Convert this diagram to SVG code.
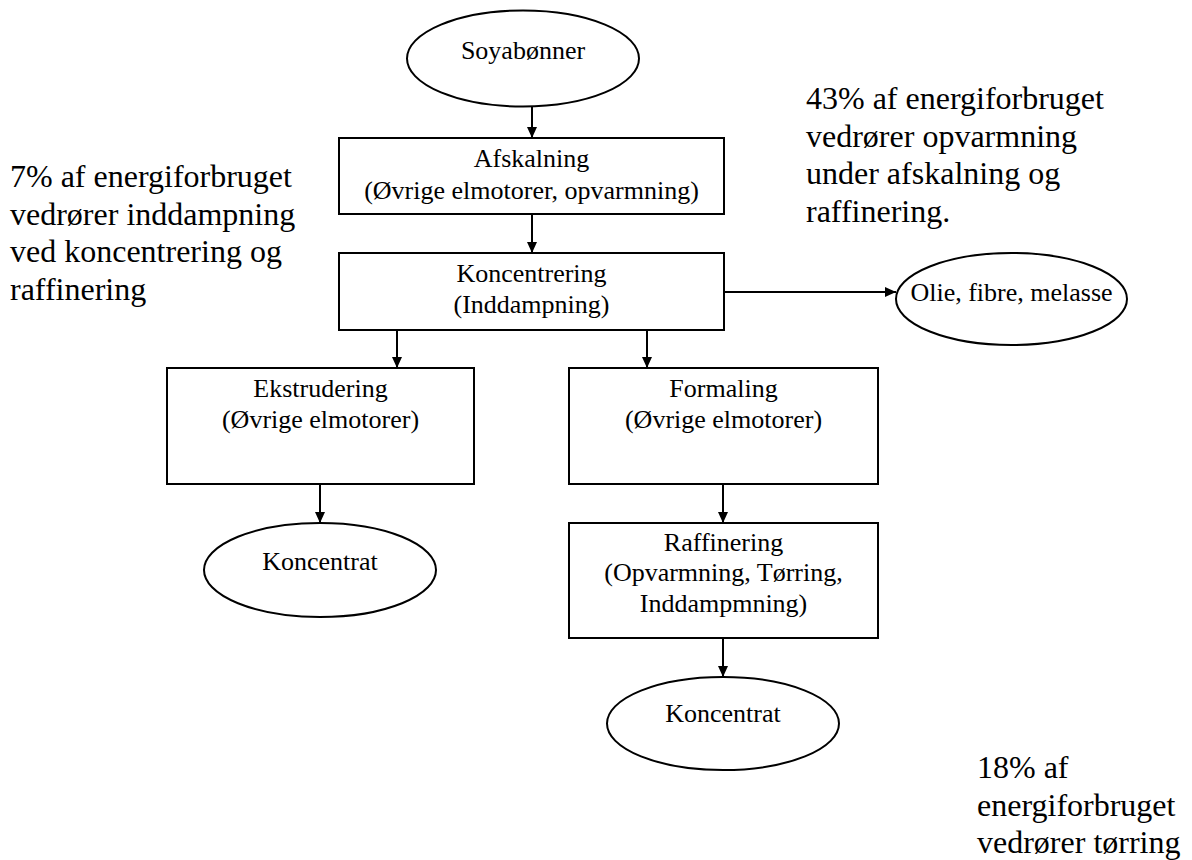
<svg xmlns="http://www.w3.org/2000/svg" width="1192" height="860" viewBox="0 0 1192 860">
  <style>
    .box { fill: #ffffff; stroke: #000000; stroke-width: 2; }
    .oval { fill: #ffffff; stroke: #000000; stroke-width: 2; }
    .lbl { font-size: 26px; fill: #000000; text-anchor: middle; }
    .note { font-size: 32px; fill: #000000; }
    .conn { stroke: #000000; stroke-width: 2; fill: none; marker-end: url(#arrow); }
  </style>
  <defs>
    <marker id="arrow" markerUnits="userSpaceOnUse" markerWidth="11" markerHeight="10" refX="11" refY="5" orient="auto">
      <path d="M0,0 L11,5 L0,10 z" fill="#000000"/>
    </marker>
  </defs>

  <rect width="1192" height="860" fill="#ffffff"/>

  <!-- connectors -->
  <g id="connectors">
    <line class="conn" x1="532" y1="99" x2="532" y2="138"/>
    <line class="conn" x1="532" y1="214" x2="532" y2="253"/>
    <line class="conn" x1="724" y1="292" x2="896" y2="292"/>
    <line class="conn" x1="397" y1="330" x2="397" y2="368"/>
    <line class="conn" x1="647" y1="330" x2="647" y2="368"/>
    <line class="conn" x1="320" y1="484" x2="320" y2="523"/>
    <line class="conn" x1="723" y1="484" x2="723" y2="523"/>
    <line class="conn" x1="723" y1="638" x2="723" y2="677"/>
  </g>

  <g font-family="Liberation Serif, DejaVu Serif, Times New Roman, serif">
  <g id="soyabonner">
    <ellipse class="oval" cx="523" cy="58.5" rx="116" ry="48"/>
    <text class="lbl" x="523" y="59">Soyabønner</text>
  </g>

  <g id="afskalning">
    <rect class="box" x="339" y="138" width="385" height="76"/>
    <text class="lbl" x="531.5" y="167">Afskalning</text>
    <text class="lbl" x="531.5" y="199">(Øvrige elmotorer, opvarmning)</text>
  </g>

  <g id="koncentrering">
    <rect class="box" x="339" y="253" width="385" height="77"/>
    <text class="lbl" x="531.5" y="282">Koncentrering</text>
    <text class="lbl" x="531.5" y="313">(Inddampning)</text>
  </g>

  <g id="olie">
    <ellipse class="oval" cx="1011.5" cy="299" rx="115.5" ry="46"/>
    <text class="lbl" x="1011.5" y="301">Olie, fibre, melasse</text>
  </g>

  <g id="ekstrudering">
    <rect class="box" x="167" y="368" width="307" height="116"/>
    <text class="lbl" x="320.5" y="397">Ekstrudering</text>
    <text class="lbl" x="320.5" y="428">(Øvrige elmotorer)</text>
  </g>

  <g id="koncentrat-1">
    <ellipse class="oval" cx="320" cy="570" rx="116" ry="47"/>
    <text class="lbl" x="320" y="570">Koncentrat</text>
  </g>

  <g id="formaling">
    <rect class="box" x="569" y="368" width="309" height="116"/>
    <text class="lbl" x="723.5" y="397">Formaling</text>
    <text class="lbl" x="723.5" y="428">(Øvrige elmotorer)</text>
  </g>

  <g id="raffinering">
    <rect class="box" x="569" y="523" width="309" height="115"/>
    <text class="lbl" x="723.5" y="551">Raffinering</text>
    <text class="lbl" x="723.5" y="581">(Opvarmning, Tørring,</text>
    <text class="lbl" x="723.5" y="612">Inddampmning)</text>
  </g>

  <g id="koncentrat-2">
    <ellipse class="oval" cx="723" cy="723.5" rx="116" ry="46.5"/>
    <text class="lbl" x="723" y="722">Koncentrat</text>
  </g>

  <!-- energy share notes -->
  <g id="note-7">
    <text class="note" x="10" y="187">7% af energiforbruget</text>
    <text class="note" x="10" y="224.5">vedrører inddampning</text>
    <text class="note" x="10" y="262">ved koncentrering og</text>
    <text class="note" x="10" y="299.5">raffinering</text>
  </g>

  <g id="note-43">
    <text class="note" x="806" y="109">43% af energiforbruget</text>
    <text class="note" x="806" y="146.5">vedrører opvarmning</text>
    <text class="note" x="806" y="184">under afskalning og</text>
    <text class="note" x="806" y="221.5">raffinering.</text>
  </g>

  <g id="note-18">
    <text class="note" x="977" y="778">18% af</text>
    <text class="note" x="977" y="816">energiforbruget</text>
    <text class="note" x="977" y="853">vedrører tørring</text>
  </g>
  </g>
</svg>
